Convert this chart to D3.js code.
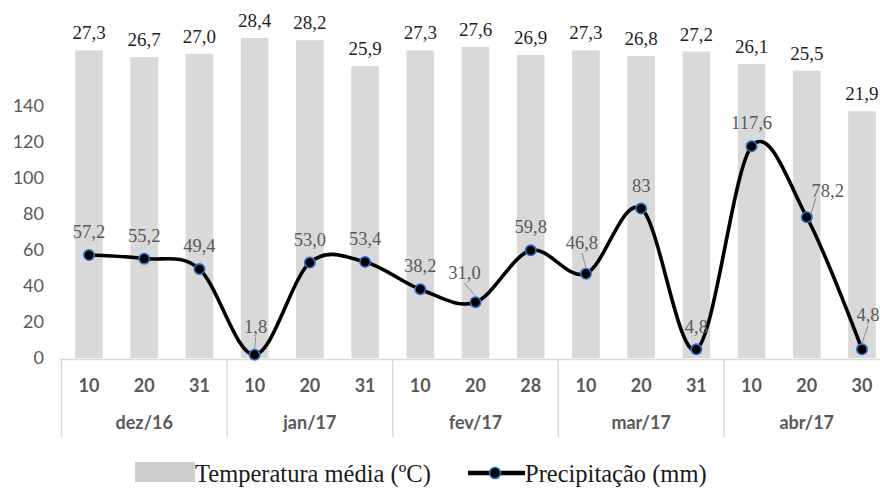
<!DOCTYPE html>
<html>
<head>
<meta charset="utf-8">
<script src="https://cdn.jsdelivr.net/npm/d3@7/dist/d3.min.js"></script>
<style>
  html, body { margin: 0; padding: 0; background: #fff; }
  svg { display: block; }
</style>
</head>
<body>
<svg id="chart" width="880" height="490"></svg>
<script>
// Ten-day periods, Dec 2016 – Apr 2017
const months = ["dez/16", "jan/17", "fev/17", "mar/17", "abr/17"];
const days = ["10", "20", "31", "10", "20", "31", "10", "20", "28", "10", "20", "31", "10", "20", "30"];
const monthOfPeriod = [0, 0, 0, 1, 1, 1, 2, 2, 2, 3, 3, 3, 4, 4, 4];

// Mean temperature (ºC) per period
const temperature = [27.3, 26.7, 27.0, 28.4, 28.2, 25.9, 27.3, 27.6, 26.9, 27.3, 26.8, 27.2, 26.1, 25.5, 21.9];

// Rainfall (mm) per period, as printed
const precipitationText = ["57,2", "55,2", "49,4", "1,8", "53,0", "53,4", "38,2", "31,0", "59,8", "46,8", "83", "4,8", "117,6", "78,2", "4,8"];
const precipitation = precipitationText.map(s => +s.replace(",", "."));

// Left axis ticks
const yTicks = [0, 20, 40, 60, 80, 100, 120, 140];

const svg = d3.select("#chart");
const W = 880;
const sans = "Lato, 'Liberation Sans', Arial, sans-serif";
const serif = "'Liberation Serif', 'Times New Roman', serif";

const x = d3.scaleBand()
  .domain(d3.range(days.length))
  .range([61.4, 889.6])
  .paddingInner(0.5)
  .paddingOuter(0.25);

const yP = d3.scaleLinear().domain([0, 140]).range([358, 106]);
const yT = d3.scaleLinear().domain([0, 30]).range([358, 20]);

const fmtT = v => d3.format(".1f")(v).replace(".", ",");
const cx = i => x(i) + x.bandwidth() / 2;

// Temperature bars (secondary scale)
svg.append("g").selectAll("rect")
  .data(temperature)
  .join("rect")
  .attr("x", (d, i) => x(i))
  .attr("width", x.bandwidth())
  .attr("y", d => yT(d))
  .attr("height", d => yT(0) - yT(d))
  .attr("fill", "#d9d9d9");

svg.append("g").selectAll("text")
  .data(temperature)
  .join("text")
  .attr("x", (d, i) => cx(i))
  .attr("y", d => yT(d) - 11)
  .attr("text-anchor", "middle")
  .attr("font-family", serif)
  .attr("font-size", 19)
  .attr("fill", "#1f1f1f")
  .text(d => fmtT(d));

// Left axis labels
const yAxis = d3.axisLeft(yP).tickValues(yTicks).tickSize(0).tickPadding(0).tickFormat(d3.format("d"));
const gy = svg.append("g").attr("transform", "translate(44,0)").call(yAxis);
gy.select(".domain").remove();
gy.selectAll("text")
  .attr("font-family", sans)
  .attr("font-size", 18)
  .attr("fill", "#595959");

// Two-level category axis
const axisColor = "#d9d9d9";
const baseY = yP(0) + 1.5;
svg.append("line")
  .attr("x1", 60).attr("x2", W).attr("y1", baseY).attr("y2", baseY)
  .attr("stroke", axisColor).attr("stroke-width", 1.5);

const monthStarts = months.map((m, k) => monthOfPeriod.indexOf(k));
const edges = monthStarts.map(i => x(i) - x.step() * x.paddingInner() / 2);
svg.append("g").selectAll("line")
  .data(edges)
  .join("line")
  .attr("x1", d => d).attr("x2", d => d)
  .attr("y1", baseY).attr("y2", 437)
  .attr("stroke", axisColor).attr("stroke-width", 1.5);

svg.append("g").selectAll("text")
  .data(days)
  .join("text")
  .attr("x", (d, i) => cx(i))
  .attr("y", 391.5)
  .attr("text-anchor", "middle")
  .attr("font-family", sans)
  .attr("font-size", 18)
  .attr("font-weight", 700)
  .attr("fill", "#595959")
  .text(d => d);

svg.append("g").selectAll("text")
  .data(months)
  .join("text")
  .attr("x", (d, k) => {
    const idx = d3.range(days.length).filter(i => monthOfPeriod[i] === k);
    return (cx(idx[0]) + cx(idx[idx.length - 1])) / 2;
  })
  .attr("y", 429)
  .attr("text-anchor", "middle")
  .attr("font-family", sans)
  .attr("font-size", 18)
  .attr("font-weight", 700)
  .attr("fill", "#595959")
  .text(d => d);

// Rainfall line (smoothed)
const line = d3.line()
  .x((d, i) => cx(i))
  .y(d => yP(d))
  .curve(d3.curveCardinal.tension(0));

svg.append("path")
  .datum(precipitation)
  .attr("d", line)
  .attr("fill", "none")
  .attr("stroke", "#000")
  .attr("stroke-width", 3.6)
  .attr("stroke-linejoin", "round");

// Label placement around each rainfall point: [dx, dy] of label centre, leader flag
const labelShift = {
  3: [1, -28, true], 7: [-11, -29, true], 9: [-4, -31, true],
  11: [0, -22, false], 13: [21, -26, true], 14: [6, -34, true]
};
const labelPos = i => {
  const s = labelShift[i] || [0, -23, false];
  return { x: cx(i) + s[0], y: yP(precipitation[i]) + s[1], leader: s[2] };
};

svg.append("g").selectAll("line")
  .data(precipitation.map((d, i) => i).filter(i => labelPos(i).leader))
  .join("line")
  .attr("x1", i => labelPos(i).x - (labelShift[i][0] > 10 ? 12 : 0))
  .attr("y1", i => labelPos(i).y + (labelShift[i][0] > 10 ? 7 : 10))
  .attr("x2", i => cx(i) + (labelShift[i][0] > 10 ? 4 : 0))
  .attr("y2", i => yP(precipitation[i]) - (labelShift[i][0] > 10 ? 3 : 6))
  .attr("stroke", "#8c8c8c")
  .attr("stroke-width", 1);

svg.append("g").selectAll("circle")
  .data(precipitation)
  .join("circle")
  .attr("cx", (d, i) => cx(i))
  .attr("cy", d => yP(d))
  .attr("r", 5.2)
  .attr("fill", "#000")
  .attr("stroke", "#2e6fc4")
  .attr("stroke-width", 1.6);

svg.append("g").selectAll("text")
  .data(precipitationText)
  .join("text")
  .attr("x", (d, i) => labelPos(i).x)
  .attr("y", (d, i) => labelPos(i).y + 6)
  .attr("text-anchor", "middle")
  .attr("font-family", serif)
  .attr("font-size", 18.5)
  .attr("fill", "#595959")
  .text(d => d);

// Legend
const legend = svg.append("g");
legend.append("rect")
  .attr("x", 135).attr("y", 462).attr("width", 60).attr("height", 20)
  .attr("fill", "#cfcfcf");
legend.append("text")
  .attr("x", 195).attr("y", 482)
  .attr("font-family", serif)
  .attr("font-size", 24.5)
  .attr("fill", "#1a1a1a")
  .text("Temperatura média (ºC)");
legend.append("line")
  .attr("x1", 468).attr("x2", 525).attr("y1", 473).attr("y2", 473)
  .attr("stroke", "#000").attr("stroke-width", 4.5);
legend.append("circle")
  .attr("cx", 495).attr("cy", 473).attr("r", 5.5)
  .attr("fill", "#000").attr("stroke", "#2e6fc4").attr("stroke-width", 1.6);
legend.append("text")
  .attr("x", 525).attr("y", 482)
  .attr("font-family", serif)
  .attr("font-size", 24.5)
  .attr("fill", "#1a1a1a")
  .text("Precipitação (mm)");
</script>
</body>
</html>
